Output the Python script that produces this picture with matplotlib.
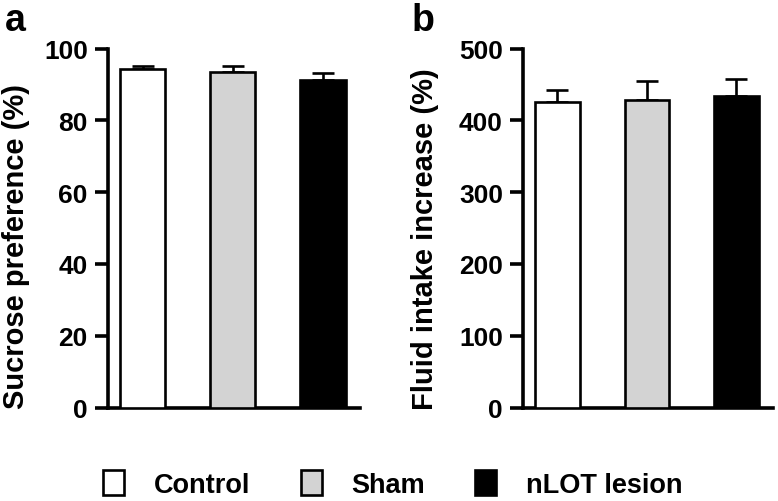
import matplotlib
matplotlib.use("Agg")
import matplotlib.pyplot as plt
from matplotlib.patches import Patch

plt.rcParams['font.family'] = ['Liberation Sans', 'DejaVu Sans']
plt.rcParams['font.weight'] = 'bold'

groups = ["Control", "Sham", "nLOT lesion"]
colors = ["white", "#d3d3d3", "black"]

sucrose_mean = [94.3, 93.5, 91.3]
sucrose_sem = [0.7, 1.5, 1.8]
fluid_mean = [425, 428, 434]
fluid_sem = [17, 27, 24]

sucrose_ticks = [0, 20, 40, 60, 80, 100]
fluid_ticks = [0, 100, 200, 300, 400, 500]

W, H = 778, 502
fig = plt.figure(figsize=(W / 100, H / 100), dpi=100)

def make_axes(left_px, right_px):
    return fig.add_axes([left_px / W, (H - 408.5) / H,
                         (right_px - left_px) / W, 359 / H])

axa = make_axes(108, 360)
axb = make_axes(523, 773)

def draw(ax, means, sems, ticks, ylabel, label_x, label_y):
    x = list(range(len(means)))
    ax.bar(x, means, width=0.5, color=colors, edgecolor="black",
           linewidth=1.9, zorder=3)
    ax.errorbar(x, means, yerr=[[0] * len(sems), sems], fmt="none",
                ecolor="black", elinewidth=1.9, capsize=8, capthick=1.9,
                zorder=2)
    ax.set_xlim(-0.385, 2.41)
    ax.set_ylim(ticks[0], ticks[-1])
    ax.set_yticks(ticks)
    ax.set_xticks([])
    for s in ["top", "right"]:
        ax.spines[s].set_visible(False)
    for s in ["left", "bottom"]:
        ax.spines[s].set_linewidth(2.6)
        ax.spines[s].set_capstyle("projecting")
    ax.tick_params(axis="y", length=9.5, width=2.6, pad=5, labelsize=19)
    for t in ax.get_yticklabels():
        t.set_fontweight("bold")
    ax.set_ylabel(ylabel, fontsize=21, fontweight="bold")
    ax.yaxis.set_label_coords(label_x, label_y)

draw(axa, sucrose_mean, sucrose_sem, sucrose_ticks,
     "Sucrose preference (%)", -0.31, 0.45)
draw(axb, fluid_mean, fluid_sem, fluid_ticks,
     "Fluid intake increase (%)", -0.335, 0.472)

fig.text(5 / W, 1 - 31 / H, "a", fontsize=27, fontweight="bold")
fig.text(412 / W, 1 - 31 / H, "b", fontsize=27, fontweight="bold")

handles = [Patch(facecolor=c, edgecolor="black", linewidth=1.9) for c in colors]
fig.legend(handles, groups, loc="lower left", bbox_to_anchor=(87 / W, -0.026),
           ncol=3, frameon=False, handlelength=0.78,
           handleheight=1.0, handletextpad=1.1, columnspacing=1.85,
           borderaxespad=0.2, prop={"weight": "bold", "size": 19.5})

fig.savefig("out.png", dpi=100)
